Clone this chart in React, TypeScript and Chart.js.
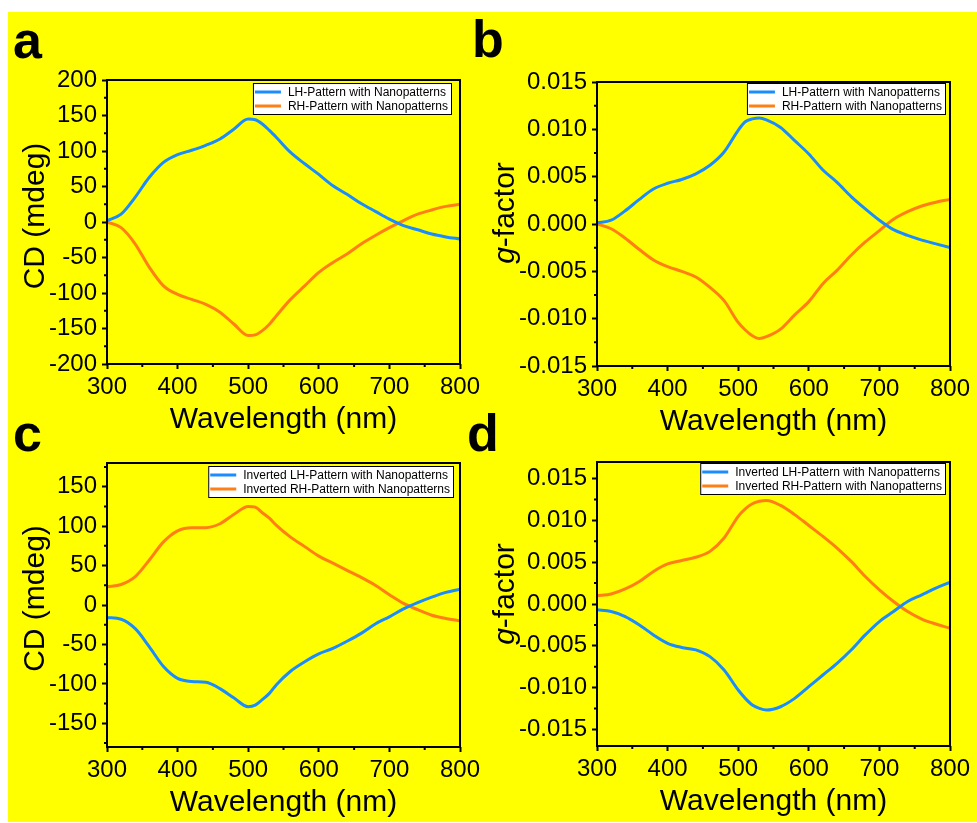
import React, { useEffect, useRef } from 'react';
import { Chart, registerables } from 'chart.js';

Chart.register(...registerables);

// ---------------- data ----------------
const WAVELENGTH = [300, 320, 340, 360, 380, 400, 420, 440, 460, 480, 500, 510, 520, 530, 540, 560, 580, 600, 620, 640, 660, 680, 700, 720, 740, 760, 780, 800];

// panel a: CD (mdeg)
const A_LH = [2, 11, 35, 63, 84, 95, 101, 108, 117, 131, 145, 144, 138, 129, 119, 98, 82, 67, 51, 39, 26, 15, 4, -5, -11, -17, -21, -24];
const A_RH = [0, -8, -31, -64, -90, -102, -109, -116, -127, -144, -160, -159, -153, -144, -132, -109, -90, -71, -57, -45, -31, -19, -8, 2, 11, 17, 22, 25];

// panel b: g-factor
const B_LH = [0.0001, 0.0004, 0.0014, 0.0026, 0.0037, 0.0043, 0.0047, 0.0053, 0.0062, 0.0076, 0.0099, 0.0108, 0.0111, 0.0112, 0.011, 0.0102, 0.0088, 0.0074, 0.0057, 0.0044, 0.0029, 0.0016, 0.0004, -0.0006, -0.0012, -0.0017, -0.0021, -0.0025];
const B_RH = [0, -0.0005, -0.0015, -0.0027, -0.0038, -0.0045, -0.005, -0.0056, -0.0067, -0.0081, -0.0104, -0.0112, -0.0118, -0.0121, -0.0119, -0.0111, -0.0096, -0.0082, -0.0063, -0.0049, -0.0033, -0.0019, -0.0007, 0.0005, 0.0013, 0.0019, 0.0023, 0.0026];

// panel c: CD (mdeg), inverted
const C_LH = [-16, -18, -30, -53, -78, -93, -97, -98, -106, -118, -129, -127, -120, -112, -101, -84, -72, -62, -55, -46, -36, -24, -15, -5, 3, 10, 16, 20];
const C_RH = [23, 26, 36, 57, 80, 94, 98, 98, 103, 115, 125, 124, 117, 110, 101, 86, 74, 62, 53, 44, 35, 25, 13, 2, -6, -13, -17, -20];

// panel d: g-factor, inverted
const D_LH = [-0.0007, -0.0009, -0.0015, -0.0025, -0.0037, -0.0047, -0.0052, -0.0055, -0.0063, -0.0079, -0.0103, -0.0113, -0.0121, -0.0125, -0.0127, -0.0123, -0.0113, -0.0099, -0.0085, -0.0071, -0.0055, -0.0037, -0.0021, -0.0009, 0.0003, 0.0011, 0.0019, 0.0026];
const D_RH = [0.001, 0.0012, 0.0018, 0.0027, 0.0039, 0.0048, 0.0052, 0.0056, 0.0063, 0.0079, 0.0105, 0.0114, 0.012, 0.0123, 0.0124, 0.0118, 0.0107, 0.0094, 0.0081, 0.0067, 0.0051, 0.0033, 0.0017, 0.0003, -0.0009, -0.0018, -0.0024, -0.0029];

// ticks
const X_TICKS = [300, 400, 500, 600, 700, 800];
const X_MINOR = [350, 450, 550, 650, 750];
const CD_TICKS_A = [-200, -150, -100, -50, 0, 50, 100, 150, 200];
const CD_TICKS_C = [-150, -100, -50, 0, 50, 100, 150];
const CD_MINOR = [-175, -125, -75, -25, 25, 75, 125, 175];
const G_TICKS = [-0.015, -0.01, -0.005, 0, 0.005, 0.01, 0.015];
const G_MINOR = [-0.0125, -0.0075, -0.0025, 0.0025, 0.0075, 0.0125];

const LABEL_LH = 'LH-Pattern with Nanopatterns';
const LABEL_RH = 'RH-Pattern with Nanopatterns';
const LABEL_ILH = 'Inverted LH-Pattern with Nanopatterns';
const LABEL_IRH = 'Inverted RH-Pattern with Nanopatterns';

// ---------------- styles ----------------
const BLUE = '#1a8cff';
const ORANGE = '#ff7f14';
const YELLOW = '#ffff00';
const FONT = '"Liberation Sans", Arial, Helvetica, sans-serif';
const TITLE_SIZE = 30;
const ORIGIN_X = 8;
const ORIGIN_Y = 12;

type Series = { label: string; data: number[]; color: string };
type PanelCfg = {
  letter: string;
  canvas: { x: number; y: number; w: number; h: number };
  area: { l: number; t: number; r: number; b: number };
  yMin: number; yMax: number; yTicks: number[]; yMinor: number[]; decimals: number;
  yTitle: 'cd' | 'g'; yTitleX: number; yTitleCY: number;
  letterX: number; letterY: number;
  legRight: number; legTop: number;
  series: Series[];
};

const PANELS: PanelCfg[] = [
  {
    letter: 'a', canvas: { x: 8, y: 12, w: 482, h: 428 }, area: { l: 107, t: 80, r: 460, b: 364 },
    yMin: -200, yMax: 200, yTicks: CD_TICKS_A, yMinor: CD_MINOR, decimals: 0,
    yTitle: 'cd', yTitleX: 44, yTitleCY: 216, letterX: 13, letterY: 58, legRight: 8, legTop: 3,
    series: [{ label: LABEL_LH, data: A_LH, color: BLUE }, { label: LABEL_RH, data: A_RH, color: ORANGE }],
  },
  {
    letter: 'b', canvas: { x: 460, y: 12, w: 517, h: 428 }, area: { l: 597, t: 82, r: 950, b: 366 },
    yMin: -0.015, yMax: 0.015, yTicks: G_TICKS, yMinor: G_MINOR, decimals: 3,
    yTitle: 'g', yTitleX: 514, yTitleCY: 213, letterX: 472, letterY: 57, legRight: 4, legTop: 1,
    series: [{ label: LABEL_LH, data: B_LH, color: BLUE }, { label: LABEL_RH, data: B_RH, color: ORANGE }],
  },
  {
    letter: 'c', canvas: { x: 8, y: 400, w: 482, h: 422 }, area: { l: 107, t: 463, r: 460, b: 747 },
    yMin: -180, yMax: 180, yTicks: CD_TICKS_C, yMinor: CD_MINOR, decimals: 0,
    yTitle: 'cd', yTitleX: 44, yTitleCY: 598.5, letterX: 13, letterY: 451, legRight: 6, legTop: 3,
    series: [{ label: LABEL_ILH, data: C_LH, color: BLUE }, { label: LABEL_IRH, data: C_RH, color: ORANGE }],
  },
  {
    letter: 'd', canvas: { x: 460, y: 400, w: 517, h: 422 }, area: { l: 597, t: 462, r: 950, b: 746 },
    yMin: -0.017, yMax: 0.017, yTicks: G_TICKS, yMinor: G_MINOR, decimals: 3,
    yTitle: 'g', yTitleX: 514, yTitleCY: 594, letterX: 467, letterY: 451, legRight: 4, legTop: 1,
    series: [{ label: LABEL_ILH, data: D_LH, color: BLUE }, { label: LABEL_IRH, data: D_RH, color: ORANGE }],
  },
];

function decorPlugin(cfg: PanelCfg) {
  const ox = cfg.canvas.x;
  const oy = cfg.canvas.y;
  return {
    id: 'decor_' + cfg.letter,
    afterDatasetsDraw(chart: any) {
      const { ctx, chartArea: ca, scales } = chart;
      ctx.save();
      ctx.strokeStyle = '#000';
      ctx.lineWidth = 2;
      // minor ticks
      ctx.beginPath();
      for (const v of X_MINOR) {
        const px = scales.x.getPixelForValue(v);
        ctx.moveTo(px, ca.bottom);
        ctx.lineTo(px, ca.bottom + 3);
      }
      for (const v of cfg.yMinor) {
        const py = scales.y.getPixelForValue(v);
        ctx.moveTo(ca.left, py);
        ctx.lineTo(ca.left - 3, py);
      }
      ctx.stroke();
      // frame
      ctx.strokeRect(ca.left, ca.top, ca.right - ca.left, ca.bottom - ca.top);

      // legend
      ctx.font = `12px ${FONT}`;
      const ds = chart.data.datasets;
      let maxW = 0;
      for (const d of ds) maxW = Math.max(maxW, ctx.measureText(d.label).width);
      const boxW = 35 + maxW + 4;
      const boxH = 32;
      const bx = ca.right - cfg.legRight - boxW;
      const by = ca.top + cfg.legTop;
      ctx.fillStyle = '#fff';
      ctx.fillRect(bx, by, boxW, boxH);
      ctx.lineWidth = 1;
      ctx.strokeStyle = '#000';
      ctx.strokeRect(bx + 0.5, by + 0.5, boxW - 1, boxH - 1);
      ds.forEach((d: any, i: number) => {
        const ry = by + 9 + i * 14;
        ctx.strokeStyle = d.borderColor;
        ctx.lineWidth = 3;
        ctx.beginPath();
        ctx.moveTo(bx + 2, ry);
        ctx.lineTo(bx + 28, ry);
        ctx.stroke();
        ctx.fillStyle = '#000';
        ctx.textAlign = 'left';
        ctx.textBaseline = 'middle';
        ctx.fillText(d.label, bx + 35, ry + 0.5);
      });

      // x title
      ctx.fillStyle = '#000';
      ctx.font = `${TITLE_SIZE}px ${FONT}`;
      ctx.textAlign = 'center';
      ctx.textBaseline = 'alphabetic';
      ctx.fillText('Wavelength (nm)', (ca.left + ca.right) / 2, ca.bottom + 64);

      // y title
      ctx.save();
      ctx.translate(cfg.yTitleX - ox, cfg.yTitleCY - oy);
      ctx.rotate(-Math.PI / 2);
      ctx.textAlign = 'left';
      if (cfg.yTitle === 'cd') {
        ctx.font = `${TITLE_SIZE}px ${FONT}`;
        const t = 'CD (mdeg)';
        const w = ctx.measureText(t).width;
        ctx.fillText(t, -w / 2, 0);
      } else {
        ctx.font = `italic ${TITLE_SIZE}px ${FONT}`;
        const w1 = ctx.measureText('g').width;
        ctx.font = `${TITLE_SIZE}px ${FONT}`;
        const w2 = ctx.measureText('-factor').width;
        const start = -(w1 + w2) / 2;
        ctx.font = `italic ${TITLE_SIZE}px ${FONT}`;
        ctx.fillText('g', start, 0);
        ctx.font = `${TITLE_SIZE}px ${FONT}`;
        ctx.fillText('-factor', start + w1, 0);
      }
      ctx.restore();

      // panel letter
      ctx.font = `bold 52px ${FONT}`;
      ctx.textAlign = 'left';
      ctx.textBaseline = 'alphabetic';
      ctx.fillStyle = '#000';
      ctx.fillText(cfg.letter, cfg.letterX - ox, cfg.letterY - oy);
      ctx.restore();
    },
  };
}

function Panel({ cfg }: { cfg: PanelCfg }) {
  const ref = useRef<HTMLCanvasElement>(null);
  useEffect(() => {
    const canvas = ref.current;
    if (!canvas) return;
    const ox = cfg.canvas.x;
    const oy = cfg.canvas.y;
    const chart = new Chart(canvas, {
      type: 'line',
      data: {
        datasets: cfg.series.map((s) => ({
          label: s.label,
          data: WAVELENGTH.map((x, i) => ({ x, y: s.data[i] })),
          borderColor: s.color,
          backgroundColor: s.color,
          borderWidth: 3,
          pointRadius: 0,
          cubicInterpolationMode: 'monotone' as const,
          fill: false,
        })),
      },
      options: {
        responsive: false,
        animation: false,
        devicePixelRatio: 1,
        events: [],
        layout: {
          padding: { left: 0, top: cfg.area.t - oy, right: ox + cfg.canvas.w - cfg.area.r, bottom: 0 },
        },
        plugins: { legend: { display: false }, tooltip: { enabled: false }, title: { display: false } },
        scales: {
          x: {
            type: 'linear',
            position: 'bottom',
            min: 300,
            max: 800,
            afterBuildTicks: (s: any) => { s.ticks = X_TICKS.map((v) => ({ value: v })); },
            afterFit: (s: any) => { s.height = oy + cfg.canvas.h - cfg.area.b; },
            ticks: {
              color: '#000', font: { family: FONT, size: 24 }, padding: 4, maxRotation: 0, autoSkip: false,
              callback: (v: any) => String(v),
            },
            grid: { display: true, drawOnChartArea: false, drawTicks: true, tickLength: 5, tickWidth: 2, tickColor: '#000' },
            border: { display: false },
          },
          y: {
            type: 'linear',
            position: 'left',
            min: cfg.yMin,
            max: cfg.yMax,
            afterBuildTicks: (s: any) => { s.ticks = cfg.yTicks.map((v) => ({ value: v })); },
            afterFit: (s: any) => { s.width = cfg.area.l - ox; },
            ticks: {
              color: '#000', font: { family: FONT, size: 24 }, padding: 5, autoSkip: false,
              callback: (v: any) => Number(v).toFixed(cfg.decimals),
            },
            grid: { display: true, drawOnChartArea: false, drawTicks: true, tickLength: 5, tickWidth: 2, tickColor: '#000' },
            border: { display: false },
          },
        },
      },
      plugins: [decorPlugin(cfg)],
    } as any);
    return () => chart.destroy();
  }, [cfg]);
  return (
    <canvas
      ref={ref}
      width={cfg.canvas.w}
      height={cfg.canvas.h}
      style={{ position: 'absolute', left: cfg.canvas.x - ORIGIN_X, top: cfg.canvas.y - ORIGIN_Y, width: cfg.canvas.w, height: cfg.canvas.h }}
    />
  );
}

export default function App() {
  return (
    <div style={{ position: 'absolute', left: ORIGIN_X, top: ORIGIN_Y, width: 969, height: 810, background: YELLOW }}>
      {PANELS.map((p) => (
        <Panel key={p.letter} cfg={p} />
      ))}
    </div>
  );
}
